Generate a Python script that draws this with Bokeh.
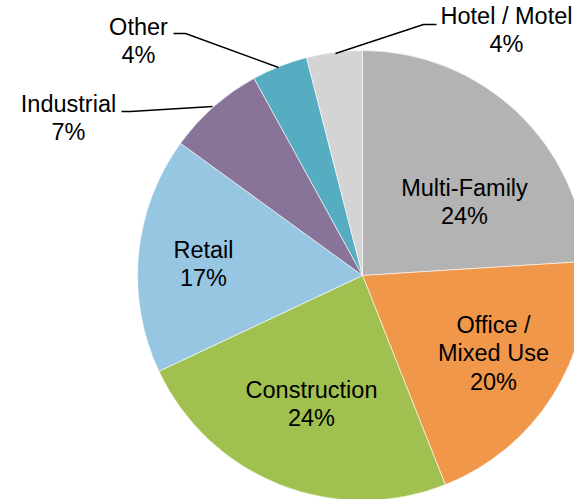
import numpy as np
from bokeh.plotting import figure
from bokeh.models import Range1d, ColumnDataSource
from bokeh.core.properties import value
from bokeh.embed import file_html
from bokeh.resources import INLINE

# ---- data ----
categories = ["Multi-Family", "Office / Mixed Use", "Construction", "Retail",
              "Industrial", "Other", "Hotel / Motel"]
shares = [24, 20, 24, 17, 7, 4, 4]
label_lines = [["Multi-Family", "24%"], ["Office /", "Mixed Use", "20%"],
               ["Construction", "24%"], ["Retail", "17%"], ["Industrial", "7%"],
               ["Other", "4%"], ["Hotel / Motel", "4%"]]
colors = ["#B3B3B3", "#F0974A", "#A0C150", "#97C6E3", "#877498", "#56ACC0", "#D4D4D4"]

# ---- layout (picture pixel coordinates) ----
W, H = 574, 499
def px(x):
    return x
def py(y):
    return H - y

cx, cy, R = 362, 275, 225
label_pos = [(464, 187), (493, 324), (311, 389), (203, 249),
             (68, 103), (138, 26), (506, 15)]
line_gap = 28.5
leaders = [
    None, None, None, None,
    [(212, 106), (130, 111), (121, 111)],
    [(278, 67), (185, 33), (173, 33)],
    [(335, 53), (423, 24), (436, 24)],
]

frac = np.array(shares, dtype=float) / sum(shares)
c1 = np.cumsum(frac)
c0 = c1 - frac
start = np.deg2rad(90 - 360 * c1)
end = np.deg2rad(90 - 360 * c0)

p = figure(width=W, height=H, output_backend="svg", toolbar_location=None,
           x_range=Range1d(0, W), y_range=Range1d(0, H), min_border=0)
p.axis.visible = False
p.grid.visible = False
p.outline_line_color = None
p.background_fill_color = "white"
p.border_fill_color = "white"

src = ColumnDataSource(dict(start=start, end=end, color=colors, cat=categories))
p.wedge(x=px(cx), y=py(cy), radius=R, start_angle="start", end_angle="end",
        fill_color="color", line_color="white", line_width=0.6, source=src)

lxs, lys = [], []
for ld in leaders:
    if ld is None:
        continue
    lxs.append([px(a) for a, b in ld])
    lys.append([py(b) for a, b in ld])
p.multi_line(xs=lxs, ys=lys, line_color="black", line_width=1.4)

tx, ty, tt = [], [], []
for (x, y), lines in zip(label_pos, label_lines):
    for k, s in enumerate(lines):
        tx.append(px(x))
        ty.append(py(y + k * line_gap))
        tt.append(s)
p.text(x=tx, y=ty, text=tt, text_align="center", text_baseline="middle",
       text_font=value("Liberation Sans"), text_font_size="23.5px", text_color="black")

open("out.html", "w").write(file_html(p, INLINE))
